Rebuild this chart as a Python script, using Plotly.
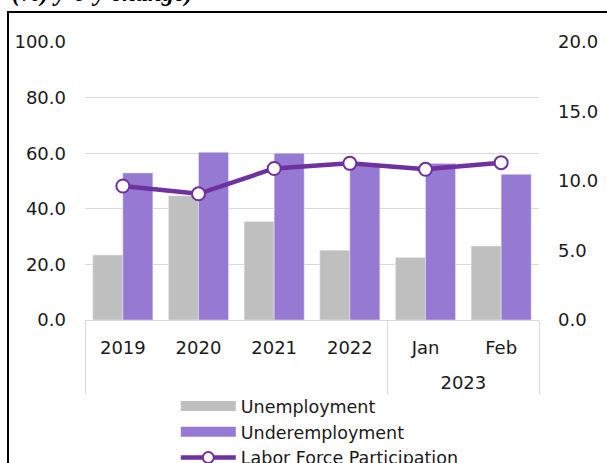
import plotly.graph_objects as go

years = [" ", " ", " ", " ", "2023", "2023"]
periods = ["2019", "2020", "2021", "2022", "Jan", "Feb"]
unemployment = [23.4, 44.7, 35.4, 25.1, 22.5, 26.6]
underemployment = [52.9, 60.3, 60.0, 55.5, 56.3, 52.4]
labor_force = [9.64, 9.08, 10.9, 11.27, 10.84, 11.32]
left_ticks = [0, 20, 40, 60, 80, 100]
right_ticks = [0, 5, 10, 15, 20]

GRAY = "#BFBFBF"
PURPLE_BAR = "#9579D2"
PURPLE_LINE = "#7030A0"
FONT = "DejaVu Sans"
TXT = "#1a1a1a"

# primary labels get an empty second line so the year row sits lower
period_labels = [p + "<br>&nbsp;" for p in periods]
x = [years, period_labels]

fig = go.Figure()
fig.add_trace(go.Bar(x=x, y=unemployment, name="Unemployment", marker_color=GRAY,
                     showlegend=False, legendgroup="u"))
fig.add_trace(go.Bar(x=x, y=underemployment, name="Underemployment", marker_color=PURPLE_BAR,
                     showlegend=False, legendgroup="ud"))
fig.add_trace(go.Scatter(x=x, y=labor_force, name="Labor Force Participation", yaxis="y2",
                         mode="lines+markers", line=dict(color=PURPLE_LINE, width=4.5),
                         marker=dict(size=13, color="white", line=dict(color=PURPLE_LINE, width=2)),
                         showlegend=False, legendgroup="l"))
# legend entries
fig.add_trace(go.Scatter(x=[None], y=[None], name="Unemployment", mode="lines",
                         line=dict(color=GRAY, width=12), legendgroup="u"))
fig.add_trace(go.Scatter(x=[None], y=[None], name="Underemployment", mode="lines",
                         line=dict(color=PURPLE_BAR, width=12), legendgroup="ud"))
fig.add_trace(go.Scatter(x=[None], y=[None], name="Labor Force Participation", yaxis="y2",
                         mode="lines+markers", line=dict(color=PURPLE_LINE, width=4.5),
                         marker=dict(size=11, color="white", line=dict(color=PURPLE_LINE, width=2)),
                         legendgroup="l"))

fig.update_layout(
    width=607, height=463,
    margin=dict(l=85, r=68, t=42, b=143, autoexpand=False),
    paper_bgcolor="white", plot_bgcolor="white",
    barmode="group", bargap=0.207, bargroupgap=0,
    font=dict(family=FONT, size=18, color=TXT),
    xaxis=dict(type="multicategory", showgrid=False, showline=True, linecolor="#D9D9D9",
               linewidth=1, ticks="", showdividers=True, dividercolor="#D9D9D9",
               dividerwidth=1, ticklabelstandoff=11,
               tickfont=dict(family=FONT, size=18, color=TXT)),
    yaxis=dict(range=[0, 100], tickvals=left_ticks, tickformat=".1f", showgrid=True,
               gridcolor="#D9D9D9", gridwidth=1, zeroline=False, showline=False, ticks="",
               ticklabelstandoff=18, tickfont=dict(family=FONT, size=18, color=TXT)),
    yaxis2=dict(range=[0, 20], tickvals=right_ticks, tickformat=".1f", overlaying="y",
                side="right", showgrid=False, zeroline=False, showline=False, ticks="",
                ticklabelstandoff=18, tickfont=dict(family=FONT, size=18, color=TXT)),
    legend=dict(x=0.2, y=-0.245, xanchor="left", yanchor="top", orientation="v",
                itemwidth=55, tracegroupgap=0, bgcolor="rgba(0,0,0,0)",
                font=dict(family=FONT, size=17.5, color=TXT)),
    annotations=[dict(text="<b><i>(%) y-o-y change)</i></b>", xref="paper", yref="paper",
                      x=-0.165, y=1.175, xanchor="left", yanchor="middle", showarrow=False,
                      font=dict(family="Liberation Serif", size=24.5, color="black"))],
    shapes=[
        dict(type="line", xref="paper", yref="paper", x0=-0.1696, x1=1.3, y0=1.1079, y1=1.1079,
             line=dict(color="black", width=2)),
        dict(type="line", xref="paper", yref="paper", x0=-0.1696, x1=-0.1696, y0=1.1115, y1=-0.56,
             line=dict(color="black", width=2)),
    ],
)

fig.write_html("out.html")
